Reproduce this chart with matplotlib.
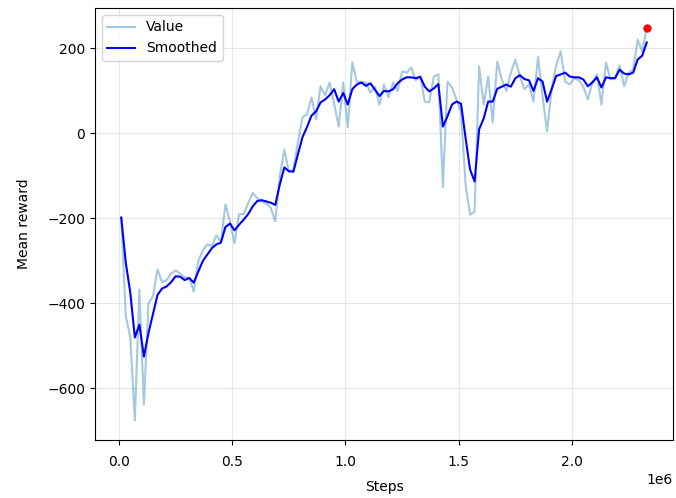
import numpy as np
import matplotlib
matplotlib.use("Agg")
import matplotlib.pyplot as plt

# training steps (every 20k steps)
steps = np.arange(10000, 2330001, 20000)

value = [
    -198, -430, -480, -675, -367, -638, -400, -383, -320, -350,
    -345, -330, -322, -330, -338, -340, -372, -300, -275, -261,
    -265, -240, -255, -167, -207, -258, -190, -190, -165, -140,
    -152, -160, -165, -175, -207, -100, -38, -90, -85, -20,
    38, 45, 85, 33, 111, 90, 120, 70, 16, 120,
    14, 167, 122, 120, 120, 96, 110, 68, 115, 85,
    120, 100, 146, 143, 155, 125, 135, 75, 73, 134,
    139, -127, 122, 108, 80, 50, -120, -191, -184, 158,
    68, 134, 26, 169, 127, 100, 143, 174, 134, 104,
    115, 75, 181, 87, 5, 104, 160, 193, 122, 115,
    130, 125, 110, 80, 120, 139, 68, 167, 127, 130,
    160, 111, 143, 150, 221, 192, 249,
]

smoothed = [
    -198, -304, -375, -480, -450, -525, -470, -425, -380, -365,
    -360, -350, -336, -337, -345, -340, -351, -325, -300, -285,
    -270, -261, -257, -220, -212, -228, -215, -203, -190, -172,
    -159, -157, -160, -163, -168, -120, -80, -89, -90, -49,
    -9, 15, 42, 52, 73, 80, 90, 104, 75, 95,
    68, 104, 115, 120, 112, 118, 103, 88, 100, 99,
    104, 118, 127, 132, 132, 130, 133, 110, 99, 106,
    116, 16, 40, 68, 75, 70, -10, -85, -113, 10,
    35, 75, 75, 105, 110, 115, 110, 130, 137, 128,
    125, 100, 130, 122, 75, 104, 135, 139, 143, 134,
    132, 132, 127, 111, 120, 132, 108, 132, 130, 130,
    150, 141, 139, 143, 174, 183, 214,
]

fig, ax = plt.subplots(figsize=(6.76, 4.98), dpi=100)
fig.subplots_adjust(left=0.1405, right=0.9956, top=0.984, bottom=0.1165)

ax.plot(steps, value, color="tab:blue", alpha=0.4, label="Value")
ax.plot(steps, smoothed, color="blue", label="Smoothed")
ax.plot(steps[-1], value[-1], "o", color="red", markersize=5)

ax.tick_params(axis="x", pad=7)
ax.set_xlabel("Steps", labelpad=8)
ax.set_ylabel("Mean reward", labelpad=12)
ax.grid(True, alpha=0.3)
ax.legend(loc="upper left")

fig.savefig("out.png", dpi=100)
